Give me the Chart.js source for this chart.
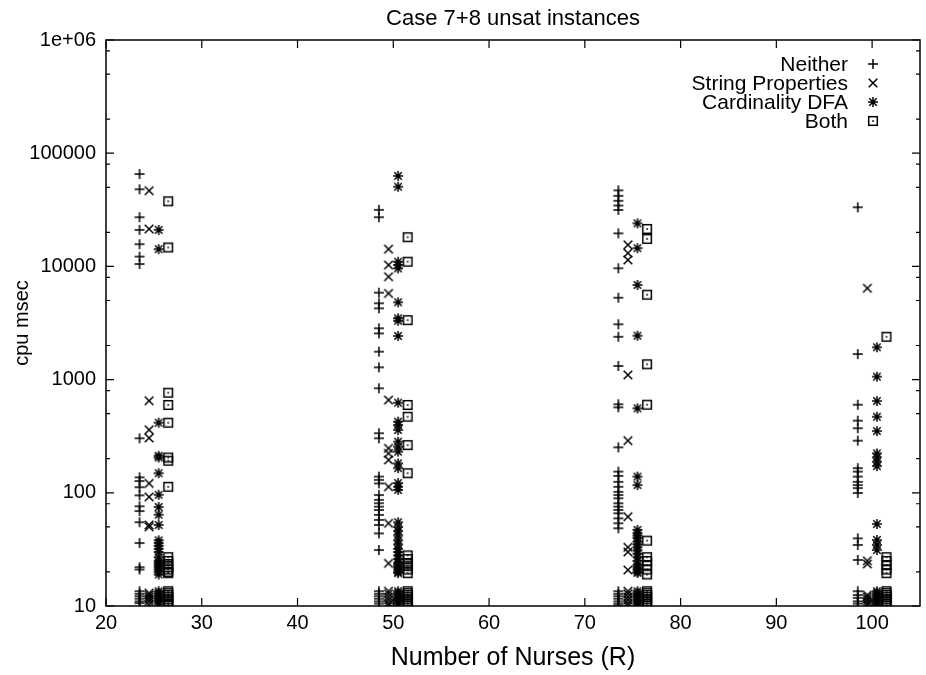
<!DOCTYPE html>
<html>
<head>
<meta charset="utf-8">
<script src="https://cdn.jsdelivr.net/npm/chart.js@4.4.1/dist/chart.umd.min.js"></script>
<style>
html,body{margin:0;padding:0;background:#fff;}
#wrap{width:926px;height:675px;position:relative;}
</style>
</head>
<body>
<div id="wrap"><canvas id="c" width="926" height="675"></canvas></div>
<script>
// ---- data ----
const nurses = [25, 50, 75, 100];
const seriesNames = ['Neither', 'String Properties', 'Cardinality DFA', 'Both'];
const seriesShift = [-1.5, -0.5, 0.5, 1.5];

const neitherVals = [
  [65500, 48000, 27200, 21000, 15700, 12200, 10500, 303, 137, 127, 112, 95, 76, 69, 55, 36, 22, 21, 13.5, 12.8, 12.2, 11.6, 11, 10.6],
  [31600, 27200, 5860, 4720, 4260, 2840, 2560, 1765, 1283, 838, 336, 303, 139, 130, 121, 95.6, 86.7, 80.9, 75.4, 70.5, 63.8, 57.6, 52, 43.8, 31.2, 13.5, 12.8, 12.2, 11.6, 11, 10.5],
  [47000, 42000, 38000, 34500, 31500, 19600, 9620, 5290, 3080, 2390, 1320, 605, 569, 252, 154, 141, 125, 113, 102, 95.6, 89.4, 80.8, 75.4, 70.5, 65.9, 59.5, 53.8, 48.6, 13.5, 12.8, 12.2, 11.6, 11, 10.5, 10.1],
  [33300, 1683, 600, 434, 372, 289, 165, 154, 139, 125, 117, 110, 99.6, 39.6, 34.6, 25.5, 13.5, 12.5, 11.8, 11, 10.5]
];
const stringVals = [
  [46600, 21400, 650, 360, 305, 121, 92, 52, 50, 13, 12.5, 12, 11.5, 11, 10.3],
  [14200, 10300, 8110, 5770, 660, 247, 223, 195, 113, 53.8, 23.8, 13.5, 12.8, 12, 11.3, 10.6, 10.2],
  [15500, 13100, 11400, 1100, 289, 61.5, 33, 30, 20.8, 13.5, 12.8, 12, 11.3, 10.6, 10.1],
  [6410, 25.1, 23.5, 12.5, 12, 11.5, 11, 10.5, 10.2]
];
const cardVals = [
  [21000, 14200, 416, 212, 205, 149, 96, 75, 64, 52, 38, 36, 34, 32, 30, 27, 25, 24, 23, 22, 21, 20, 19, 13.5, 13, 12.5, 12, 11.5, 11, 10.5],
  [63000, 50600, 11000, 10300, 9600, 4820, 3480, 3310, 2430, 625, 425, 397, 359, 283, 255, 231, 182, 165, 122, 113, 106, 55, 50, 46, 42, 38, 35, 32, 30, 28, 26, 24, 23, 22, 21, 20, 19.5, 13.5, 13, 12.5, 12, 11.5, 11, 10.5],
  [24000, 14500, 6850, 2440, 557, 139, 117, 47, 44, 42, 40, 37, 35, 33, 31, 29, 27, 25, 23, 22, 21, 20, 19.6, 13.5, 13, 12.5, 12, 11.5, 11, 10.5, 10.1],
  [1930, 1062, 647, 470, 351, 223, 206, 188, 172, 53, 38.3, 34.6, 31.2, 13.5, 13, 12.5, 12, 11.5, 11, 10.5, 10.1]
];
const bothVals = [
  [37600, 14700, 766, 597, 416, 205, 192, 113, 27, 25, 23.5, 22, 21, 20, 19.5, 13.5, 13, 12.5, 12, 11.5, 11, 10.5, 10.2],
  [18100, 11000, 3350, 597, 470, 264, 149, 28, 26, 24, 22.5, 21, 19.5, 13.5, 13, 12.5, 12, 11.5, 11, 10.5, 10.1],
  [21400, 17500, 5620, 1365, 600, 37.8, 27, 25, 23, 21, 19, 13.5, 13, 12.5, 12, 11.5, 11, 10.5, 10.1],
  [2390, 27, 25, 23, 21, 19.5, 13.5, 13, 12.5, 12, 11.5, 11, 10.5, 10.1]
];
const allVals = [neitherVals, stringVals, cardVals, bothVals];

const xTicks = [20, 30, 40, 50, 60, 70, 80, 90, 100];
const yTicks = [10, 100, 1000, 10000, 100000, 1000000];
const yTickLabels = ['10', '100', '1000', '10000', '100000', '1e+06'];
const yMinorFactors = [2, 5, 8];

const titleText = 'Case 7+8 unsat instances';
const xTitle = 'Number of Nurses (R)';
const yTitle = 'cpu msec';

// ---- marker images ----
function marker(kind) {
  const c = document.createElement('canvas');
  c.width = 14; c.height = 14;
  const g = c.getContext('2d');
  g.strokeStyle = '#000'; g.fillStyle = '#000'; g.lineWidth = 1.5;
  const m = 7;
  g.beginPath();
  if (kind === 'plus' || kind === 'star') {
    g.moveTo(m - 5, m); g.lineTo(m + 5, m);
    g.moveTo(m, m - 5); g.lineTo(m, m + 5);
  }
  if (kind === 'x' || kind === 'star') {
    const r = kind === 'x' ? 4.3 : 3.7;
    g.moveTo(m - r, m - r); g.lineTo(m + r, m + r);
    g.moveTo(m - r, m + r); g.lineTo(m + r, m - r);
  }
  g.stroke();
  if (kind === 'box') {
    g.strokeRect(m - 4.3, m - 4.3, 8.6, 8.6);
    g.fillRect(m - 0.8, m - 0.8, 1.6, 1.6);
  }
  return c;
}
const markers = [marker('plus'), marker('x'), marker('star'), marker('box')];

const datasets = seriesNames.map((name, si) => {
  const pts = [];
  allVals[si].forEach((vals, ri) => {
    vals.forEach(v => pts.push({ x: nurses[ri] + seriesShift[si], y: v }));
  });
  return {
    label: name,
    data: pts,
    pointStyle: markers[si],
    pointRadius: 5,
    pointHoverRadius: 5,
    borderColor: '#000',
    backgroundColor: '#000',
    showLine: false
  };
});

const FONT = "'Liberation Sans', Arial, Helvetica, sans-serif";

const framePlugin = {
  id: 'framePlugin',
  afterDraw(chart) {
    const ctx = chart.ctx;
    const a = chart.chartArea;
    const xs = chart.scales.x, ys = chart.scales.y;
    ctx.save();
    ctx.strokeStyle = '#000';
    ctx.lineWidth = 1.5;
    ctx.strokeRect(a.left, a.top, a.right - a.left, a.bottom - a.top);
    ctx.lineWidth = 1.2;
    ctx.beginPath();
    xTicks.forEach(v => {
      const px = xs.getPixelForValue(v);
      ctx.moveTo(px, a.bottom); ctx.lineTo(px, a.bottom - 8);
      ctx.moveTo(px, a.top); ctx.lineTo(px, a.top + 8);
    });
    yTicks.forEach(v => {
      const py = ys.getPixelForValue(v);
      ctx.moveTo(a.left, py); ctx.lineTo(a.left + 8, py);
      ctx.moveTo(a.right, py); ctx.lineTo(a.right - 8, py);
      if (v < 1000000) {
        yMinorFactors.forEach(f => {
          const pm = ys.getPixelForValue(v * f);
          ctx.moveTo(a.left, pm); ctx.lineTo(a.left + 4, pm);
          ctx.moveTo(a.right, pm); ctx.lineTo(a.right - 4, pm);
        });
      }
    });
    ctx.stroke();

    // titles
    ctx.fillStyle = '#000';
    ctx.textAlign = 'center';
    ctx.textBaseline = 'alphabetic';
    const cx = (a.left + a.right) / 2;
    ctx.font = '22px ' + FONT;
    ctx.fillText(titleText, cx, 25);
    ctx.font = '25px ' + FONT;
    ctx.fillText(xTitle, cx, 665);
    ctx.font = '20px ' + FONT;
    ctx.save();
    ctx.translate(22, (a.top + a.bottom) / 2);
    ctx.rotate(-Math.PI / 2);
    ctx.textBaseline = 'middle';
    ctx.fillText(yTitle, 0, 0);
    ctx.restore();

    // legend
    ctx.font = '21px ' + FONT;
    ctx.textAlign = 'right';
    ctx.textBaseline = 'middle';
    const rowsY = [64, 83, 102, 121];
    seriesNames.forEach((n, i) => {
      ctx.fillText(n, 848, rowsY[i] + 1);
      const img = markers[i];
      ctx.drawImage(img, 873 - img.width / 2, rowsY[i] - img.height / 2);
    });
    ctx.restore();
  }
};

new Chart(document.getElementById('c'), {
  type: 'scatter',
  data: { datasets },
  options: {
    responsive: false,
    animation: false,
    events: [],
    layout: { padding: { left: 0, top: 40, right: 5, bottom: 0 } },
    plugins: { legend: { display: false }, tooltip: { enabled: false }, title: { display: false } },
    scales: {
      x: {
        type: 'linear', min: 20, max: 105,
        grid: { display: false, drawTicks: false },
        border: { display: false },
        afterBuildTicks(s) { s.ticks = xTicks.map(v => ({ value: v })); },
        afterFit(s) { s.height = 69; },
        ticks: { color: '#000', font: { family: FONT, size: 20 }, padding: 5, maxRotation: 0, autoSkip: false,
          callback: v => String(v) }
      },
      y: {
        type: 'logarithmic', min: 10, max: 1000000,
        grid: { display: false, drawTicks: false },
        border: { display: false },
        afterBuildTicks(s) { s.ticks = yTicks.map(v => ({ value: v })); },
        afterFit(s) { s.width = 106; },
        ticks: { color: '#000', font: { family: FONT, size: 20 }, padding: 10, autoSkip: false,
          callback: v => { const i = yTicks.indexOf(v); return i >= 0 ? yTickLabels[i] : ''; } }
      }
    }
  },
  plugins: [framePlugin]
});
</script>
</body>
</html>
